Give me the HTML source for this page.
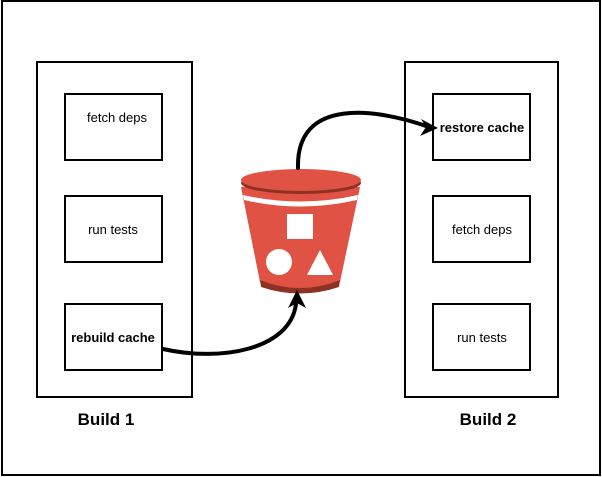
<!DOCTYPE html>
<html><head><style>
body{margin:0;background:#fff;}
svg{display:block;font-family:"Liberation Sans",sans-serif;}
</style></head><body>
<svg width="602" height="477" viewBox="0 0 602 477">
<rect x="2" y="1" width="598" height="474" fill="#fff" stroke="#000" stroke-width="2"/>
<g fill="none" stroke="#000" stroke-width="2">
<rect x="37" y="62" width="155" height="335"/>
<rect x="405" y="62" width="153" height="335"/>
<rect x="65" y="94" width="97" height="66"/>
<rect x="65" y="196" width="97" height="66"/>
<rect x="65" y="304" width="97" height="66"/>
<rect x="433" y="94" width="97" height="66"/>
<rect x="433" y="196" width="97" height="66"/>
<rect x="433" y="304" width="97" height="66"/>
</g>
<g font-size="13" fill="#000" text-anchor="middle">
<text x="117" y="122">fetch deps</text>
<text x="113" y="234">run tests</text>
<text x="113" y="342" font-weight="bold">rebuild cache</text>
<text x="482" y="132" font-weight="bold">restore cache</text>
<text x="482" y="234">fetch deps</text>
<text x="482" y="342">run tests</text>
</g>
<g font-size="17" font-weight="bold" text-anchor="middle">
<text x="106" y="425">Build 1</text>
<text x="488" y="425">Build 2</text>
</g>
<path d="M241,187 L260,282 Q300,298 340,282 L360,187 Z" fill="#e05243"/>
<path d="M260,280 Q300,296 340,280 L339,287 Q300,300 261,287 Z" fill="#8c3123"/>
<path d="M243,195 Q300,208 358,195 L357,200 Q300,213 244,200 Z" fill="#fff"/>
<ellipse cx="301" cy="183" rx="60" ry="11" fill="#8c3123"/>
<ellipse cx="301" cy="180" rx="60" ry="11" fill="#e05243"/>
<rect x="287" y="214" width="26" height="25" fill="#fff"/>
<circle cx="279" cy="262" r="13" fill="#fff"/>
<polygon points="320,250 333,275 307,275" fill="#fff"/>
<g fill="none" stroke="#000" stroke-width="4" stroke-linecap="round">
<path d="M163,349 C220,362 290,350 296,304"/>
<path d="M298,168 C296,95 380,110 426,126"/>
</g>
<polygon points="297,290 288,308 297,303 306,308" fill="#000"/>
<polygon points="438,128 421,119 426,127 420,136" fill="#000"/>
</svg>
</body></html>
